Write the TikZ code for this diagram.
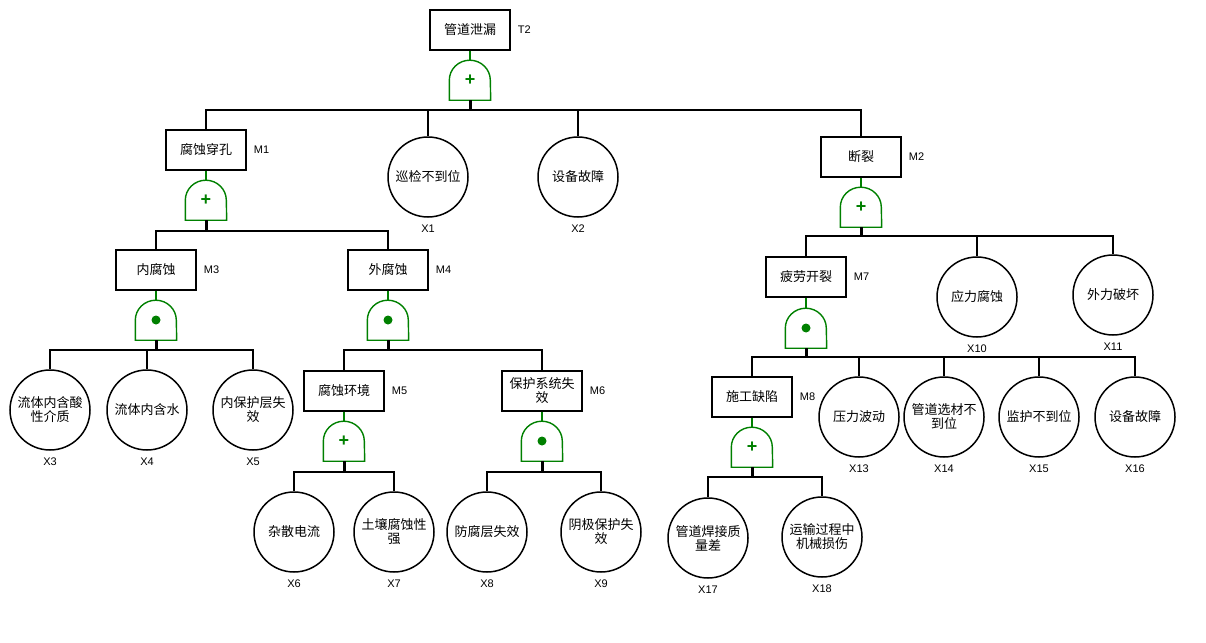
\documentclass[tikz,border=0pt]{standalone}
\usepackage{fontspec}
\setmainfont{Noto Sans CJK SC}
\newfontfamily\latinfont{Liberation Sans}
\definecolor{gatecol}{RGB}{0,128,0}
\tikzset{
  event/.style={draw, line width=1.5pt, minimum width=80pt, minimum height=40pt, inner sep=1pt, align=center, font=\fontsize{13}{14}\selectfont},
  basic/.style={draw, circle, line width=1.5pt, minimum size=80pt, inner sep=0pt, align=center, font=\fontsize{13}{14}\selectfont},
  tag/.style={font=\latinfont\fontsize{11}{13}\selectfont, inner sep=0pt},
  gate/.style={minimum width=41pt, minimum height=40pt, inner sep=0pt, text=gatecol, font=\latinfont\bfseries\fontsize{18}{18}\selectfont},
  gateline/.style={draw=gatecol, line width=1.4pt},
  wire/.style={line width=1.3pt},
  stub/.style={line width=3pt},
}
\begin{document}
\begin{tikzpicture}[x=1pt,y=-1pt,label distance=7pt]
\useasboundingbox (0,0) rectangle (1206,642);
% events
\node[event, label={[tag]right:T2}] (t2) at (470,30) {管道泄漏};
\node[event, label={[tag]right:M1}] (m1) at (206,150) {腐蚀穿孔};
\node[event, label={[tag]right:M2}] (m2) at (861,157) {断裂};
\node[event, label={[tag]right:M3}] (m3) at (156,270) {内腐蚀};
\node[event, label={[tag]right:M4}] (m4) at (388,270) {外腐蚀};
\node[event, label={[tag]right:M5}] (m5) at (344,391) {腐蚀环境};
\node[event, label={[tag]right:M6}] (m6) at (542,391) {保护系统失\\效};
\node[event, label={[tag]right:M7}] (m7) at (806,277) {疲劳开裂};
\node[event, label={[tag]right:M8}] (m8) at (752,397) {施工缺陷};
% basic events
\node[basic, label={[tag]below:X1}] (x1) at (428,177) {巡检不到位};
\node[basic, label={[tag]below:X2}] (x2) at (578,177) {设备故障};
\node[basic, label={[tag]below:X3}] (x3) at (50,410) {流体内含酸\\性介质};
\node[basic, label={[tag]below:X4}] (x4) at (147,410) {流体内含水};
\node[basic, label={[tag]below:X5}] (x5) at (253,410) {内保护层失\\效};
\node[basic, label={[tag]below:X6}] (x6) at (294,532) {杂散电流};
\node[basic, label={[tag]below:X7}] (x7) at (394,532) {土壤腐蚀性\\强};
\node[basic, label={[tag]below:X8}] (x8) at (487,532) {防腐层失效};
\node[basic, label={[tag]below:X9}] (x9) at (601,532) {阴极保护失\\效};
\node[basic, label={[tag]below:X10}] (x10) at (977,297) {应力腐蚀};
\node[basic, label={[tag]below:X11}] (x11) at (1113,295) {外力破坏};
\node[basic, label={[tag]below:X13}] (x13) at (859,417) {压力波动};
\node[basic, label={[tag]below:X14}] (x14) at (944,417) {管道选材不\\到位};
\node[basic, label={[tag]below:X15}] (x15) at (1039,417) {监护不到位};
\node[basic, label={[tag]below:X16}] (x16) at (1135,417) {设备故障};
\node[basic, label={[tag]below:X17}] (x17) at (708,538) {管道焊接质\\量差};
\node[basic, label={[tag]below:X18}] (x18) at (822,537) {运输过程中\\机械损伤};
% gates
\node[gate] (g0) at (470,80) {+};
\node[gate] (g1) at (206,200) {+};
\node[gate] (g2) at (861,207) {+};
\node[gate] (g3) at (156,320) {};
\node[gate] (g4) at (388,320) {};
\node[gate] (g5) at (344,441) {+};
\node[gate] (g6) at (542,441) {};
\node[gate] (g7) at (806,328) {};
\node[gate] (g8) at (752,447) {+};
\foreach \g in {g0,g1,g2,g3,g4,g5,g6,g7,g8}
  \draw[gateline] (\g.south west) -- ++(0pt,20pt) arc[start angle=180, end angle=0, x radius=20.5pt, y radius=20pt] -- (\g.south east) -- cycle;
\foreach \g in {g3,g4,g6,g7}
  \fill[gatecol] (\g.center) circle[radius=4.5pt];
\foreach \e/\g in {t2/g0,m1/g1,m2/g2,m3/g3,m4/g4,m5/g5,m6/g6,m7/g7,m8/g8}
  \draw[gatecol, line width=1.2pt] (\e) -- (\g);
% bars
\coordinate (b0) at (470,110);
\coordinate (b1) at (206,231);
\coordinate (b2) at (861,236);
\coordinate (b3) at (156,350);
\coordinate (b4) at (388,350);
\coordinate (b5) at (344,472);
\coordinate (b6) at (542,472);
\coordinate (b7) at (806,357);
\coordinate (b8) at (752,477);
\foreach \g/\b in {g0/b0,g1/b1,g2/b2,g3/b3,g4/b4,g5/b5,g6/b6,g7/b7,g8/b8}
  \draw[stub] (\g) -- (\b);
\foreach \c in {m1,x1,x2,m2} \draw[wire] (b0) -| (\c);
\foreach \c in {m3,m4} \draw[wire] (b1) -| (\c);
\foreach \c in {m7,x10,x11} \draw[wire] (b2) -| (\c);
\foreach \c in {x3,x4,x5} \draw[wire] (b3) -| (\c);
\foreach \c in {m5,m6} \draw[wire] (b4) -| (\c);
\foreach \c in {x6,x7} \draw[wire] (b5) -| (\c);
\foreach \c in {x8,x9} \draw[wire] (b6) -| (\c);
\foreach \c in {m8,x13,x14,x15,x16} \draw[wire] (b7) -| (\c);
\foreach \c in {x17,x18} \draw[wire] (b8) -| (\c);
\end{tikzpicture}
\end{document}
